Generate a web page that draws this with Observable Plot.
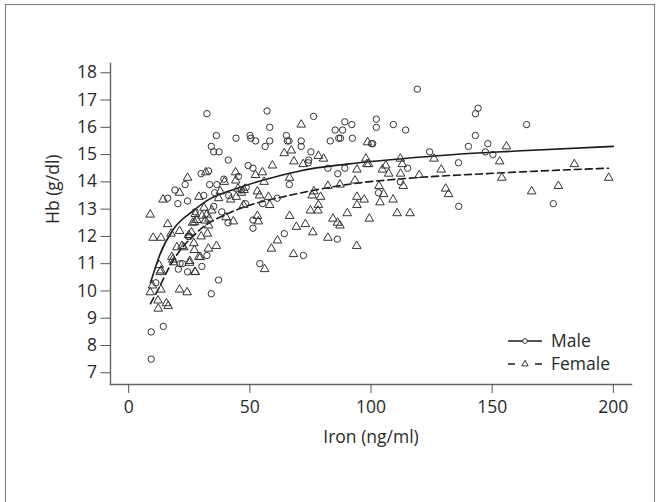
<!DOCTYPE html>
<html>
<head>
<meta charset="utf-8">
<script src="https://cdn.jsdelivr.net/npm/d3@7"></script>
<script src="https://cdn.jsdelivr.net/npm/@observablehq/plot@0.6"></script>
<style>
  html, body { margin: 0; padding: 0; background: #fff; overflow: hidden; }
  #wrap { position: relative; width: 663px; height: 502px; }
  #frame { position: absolute; left: 5px; top: 4px; width: 650px; height: 540px;
           border: 1.5px solid #7a7a7a; box-sizing: border-box; pointer-events: none; }
  #legend { position: absolute; left: 0; top: 0; pointer-events: none; }
</style>
</head>
<body>
<div id="wrap"><div id="frame"></div></div>
<script>
// ---- data ----
const xTicks = [0, 50, 100, 150, 200];
const yTicks = [7, 8, 9, 10, 11, 12, 13, 14, 15, 16, 17, 18];
const seriesNames = ["Male", "Female"];

const maleIron = [9.3,9.3,14.3,11.2,16.1,19.1,20.3,23.3,24.3,21.2,22.2,20.5,24.3,24.5,25.1,27.4,30.2,32.3,29.9,33,31,32.3,33.4,34.1,35.1,36.2,37.3,34.1,37.1,35.5,35.1,36.4,38.4,39.3,41.1,41,41.3,44.3,45.3,46.5,48.5,48.2,49.3,50.1,50.4,51.3,52.4,51.3,51.3,54.1,55.2,56.3,57.1,58.2,58.2,61.3,64.2,65.1,65.5,66.2,66.3,71.2,71.2,72.1,74.1,74.3,75.2,76.3,83.2,82.2,85.2,86.7,87.4,86.3,86.1,88.3,89.2,89.2,92.1,92.3,100.2,100.7,102.2,102.2,103.1,109.2,112.1,114.3,115.1,119.1,124.2,136.1,136.2,140.2,143.1,143.1,144.2,147.2,148.2,150.3,164.2,175.2];
const maleHb   = [7.5,8.5,8.7,10.3,13.4,13.7,13.2,13.9,13.3,11.0,11.0,10.8,10.7,12.0,12.0,12.9,10.9,11.3,14.3,14.4,13.5,16.5,13.9,15.3,15.1,15.7,15.1,9.9,10.4,13.6,13.1,13.9,12.9,14.1,14.8,12.5,13.5,15.6,14.2,13.7,13.8,13.2,14.6,15.7,15.6,14.5,15.5,12.3,12.6,11.0,13.2,15.3,16.6,16.0,15.5,13.4,12.1,15.7,15.5,15.5,13.9,15.5,15.3,11.3,14.7,14.8,15.1,16.4,15.5,14.5,15.9,15.6,15.6,14.3,11.9,15.9,16.2,14.5,16.1,15.6,15.4,15.4,16.3,16.0,13.6,16.1,14.0,15.9,14.5,17.4,15.1,14.7,13.1,15.3,15.7,16.5,16.7,15.1,15.4,15.0,16.1,13.2];

const femaleIron = [8.9,8.9,10.1,13.3,9.8,12.1,12.2,13.3,12.6,13.3,14.2,16.1,15.6,16.3,17.5,17.8,18.2,18.5,21,21,21,19.9,22,24.1,24.3,24.8,25.2,25.9,26.4,26.9,27.3,27.1,28.1,29,29,29.9,31.1,31.8,32.2,32.5,32.9,33.2,34.3,36.2,37.1,37.8,39.5,40.2,42.1,43.2,44.1,44.2,44.4,45.1,46.5,47.4,47.6,52.3,53.1,53.5,53.1,54,55.2,55.9,56.1,57.7,58.2,58.9,59.3,61.4,64.2,66.4,66.4,67.1,68.2,68,69.2,71.2,72,72.9,75,75.7,76,76.4,78.1,78.3,78.3,79.2,80.4,82.2,82.2,84.3,86.2,87.2,87.2,90.2,93.4,94.1,94.2,94.2,94.2,97.2,97.9,98.3,99,98.6,99.3,103.3,103.7,104.7,105.2,106.1,107.3,109.1,110.8,112.1,112.2,112.9,113.3,116.1,119.9,126,129,130.8,132,153.1,154,155.9,166.3,177.3,183.9,198.1,27.2,27.5,30.3,31.6,22.7,25.1,27.5,29.6,13,33];
const femaleHb   = [12.8,9.95,11.95,11.95,10.2,9.65,9.35,10.05,10.95,10.75,13.35,12.45,9.55,9.45,12.1,11.25,11.15,11.05,13.6,12.2,10.05,11.6,11.65,9.95,14.15,12.05,11.1,12.15,12.5,11.75,10.7,11.5,12.6,13.45,11.25,12.0,13.05,14.35,12.8,12.1,11.55,12.65,12.95,11.65,13.4,13.65,14.0,12.7,13.35,12.55,14.35,14.05,13.45,13.75,13.6,13.15,13.7,14.25,12.75,12.55,13.65,13.5,14.35,14.0,10.8,13.45,13.15,11.55,14.6,11.85,15.05,14.15,12.75,15.15,14.75,11.35,12.35,16.1,14.65,12.45,12.95,13.5,12.15,13.65,12.95,14.95,13.15,13.45,14.85,13.85,11.95,12.65,12.5,12.4,13.9,12.85,14.05,11.65,14.45,13.45,13.15,13.35,14.85,14.65,14.65,15.45,12.65,13.85,13.25,14.45,13.55,14.6,14.3,13.35,12.85,14.85,14.3,14.65,13.85,12.85,14.25,14.85,14.45,13.75,13.55,14.75,14.15,15.3,13.65,13.85,14.65,14.15,12.52,12.82,12.76,12.58,11.6,11.03,10.69,11.24,10.69,12.4];

// fitted curves
const maleFitIron = [9, 13, 18.5, 26.8, 32.3, 46, 62.6, 71, 90, 112, 137, 160, 200];
const maleFitHb   = [10.3, 11.36, 12.27, 12.95, 13.31, 13.8, 14.23, 14.41, 14.65, 14.84, 15.02, 15.13, 15.3];
const femaleFitIron = [9, 12.3, 17.9, 28.2, 42, 51.6, 62.6, 90, 118, 145, 170, 198];
const femaleFitHb   = [9.53, 10.08, 11.05, 12.15, 12.88, 13.19, 13.43, 13.9, 14.15, 14.29, 14.4, 14.5];

// ---- build tables ----
const male = maleIron.map((x, i) => ({x, y: maleHb[i]}));
const female = femaleIron.map((x, i) => ({x, y: femaleHb[i]}));
const maleFit = maleFitIron.map((x, i) => ({x, y: maleFitHb[i]}));
const femaleFit = femaleFitIron.map((x, i) => ({x, y: femaleFitHb[i]}));

const FONT = "'Open Sans', 'Noto Sans', sans-serif";
const ink = "#2a2a2a";

const chart = Plot.plot({
  width: 663,
  height: 502,
  marginLeft: 110,
  marginRight: 32,
  marginTop: 63,
  marginBottom: 118,
  style: {fontFamily: FONT, fontSize: "17.5px", color: ink, background: "transparent", overflow: "visible"},
  x: {domain: [-7.5, 207.5]},
  y: {domain: [6.57, 18.34]},
  marks: [
    Plot.frame({anchor: "left", stroke: "#666", strokeWidth: 1.4}),
    Plot.frame({anchor: "bottom", stroke: "#666", strokeWidth: 1.4}),
    Plot.axisX({ticks: xTicks, tickSize: 9, tickPadding: 7, label: null, stroke: "#555", fill: ink, fontSize: 17.5}),
    Plot.axisY({ticks: yTicks, tickSize: 9.5, tickPadding: 4, label: null, stroke: "#555", fill: ink, fontSize: 17.5}),
    Plot.text(["Iron (ng/ml)"], {frameAnchor: "bottom", dy: 53, lineAnchor: "middle", fill: ink, fontSize: 17.5}),
    Plot.text(["Hb (g/dl)"], {frameAnchor: "left", dx: -57, rotate: -90, lineAnchor: "middle", fill: ink, fontSize: 17.5}),
    Plot.line(maleFit, {x: "x", y: "y", curve: "monotone-x", stroke: "#1a1a1a", strokeWidth: 1.6}),
    Plot.line(femaleFit, {x: "x", y: "y", curve: "monotone-x", stroke: "#1a1a1a", strokeWidth: 1.6, strokeDasharray: "7,4"}),
    Plot.dot(male, {x: "x", y: "y", symbol: "circle", r: 3.2, stroke: "#333", strokeWidth: 1, fill: "none"}),
    Plot.dot(female, {x: "x", y: "y", symbol: "triangle", r: 3.2, stroke: "#333", strokeWidth: 1, fill: "none"})
  ]
});
const wrap = document.getElementById("wrap");
wrap.insertBefore(chart, wrap.firstChild);

// ---- legend ----
const leg = d3.select(wrap).append("svg").attr("id", "legend").attr("width", 663).attr("height", 502);
const rows = [{name: seriesNames[0], y: 341, dash: null, sym: d3.symbolCircle},
              {name: seriesNames[1], y: 364, dash: "6,4", sym: d3.symbolTriangle}];
rows.forEach(r => {
  if (r.dash) {
    leg.append("line").attr("x1", 508).attr("x2", 515).attr("y1", r.y).attr("y2", r.y).attr("stroke", "#1a1a1a").attr("stroke-width", 1.5);
    leg.append("line").attr("x1", 535).attr("x2", 542).attr("y1", r.y).attr("y2", r.y).attr("stroke", "#1a1a1a").attr("stroke-width", 1.5);
  } else {
    leg.append("line").attr("x1", 508).attr("x2", 542).attr("y1", r.y).attr("y2", r.y).attr("stroke", "#1a1a1a").attr("stroke-width", 1.5);
  }
  leg.append("path").attr("d", d3.symbol(r.sym, 18)()).attr("transform", `translate(525,${r.y})`)
     .attr("fill", "#fff").attr("stroke", "#333").attr("stroke-width", 1);
  leg.append("text").attr("x", 551).attr("y", r.y).attr("dy", "0.35em").attr("font-family", FONT)
     .attr("font-size", 17.5).attr("fill", ink).text(r.name);
});
</script>
</body>
</html>
